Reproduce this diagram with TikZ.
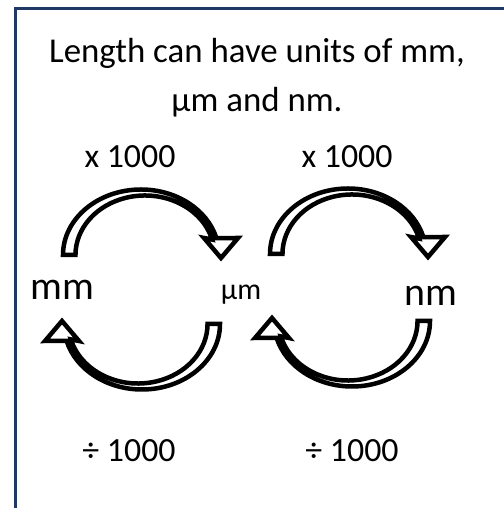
\documentclass[tikz,border=0pt]{standalone}
\usepackage{fontspec}
\setmainfont{Carlito}
\definecolor{frameblue}{RGB}{31,56,100}
\tikzset{
 bendarrow/.pic={
  \draw[bandline] (-78,0) arc[start angle=180,end angle=15,x radius=78,y radius=65.5]
   -- (97,17) -- (80,-3) -- (63,17) -- (71.1,15.4)
   arc[start angle=15,end angle=180,x radius=69.5,y radius=59.5] -- cycle;
 }
}
\begin{document}
\begin{tikzpicture}[x=1bp,y=1bp,
 heading/.style={font=\fontsize{35}{42}\selectfont,anchor=base,inner sep=0pt},
 factor/.style={font=\fontsize{34}{40}\selectfont,anchor=base,inner sep=0pt},
 unit/.style={font=\fontsize{40}{48}\selectfont,anchor=base,inner sep=0pt},
 bandline/.style={draw=black,fill=white,line width=4.5bp,line join=miter,miter limit=4}]
\useasboundingbox (0,0) rectangle (504,508);
\clip (0,0) rectangle (504,508);
\draw[frameblue,line width=3bp] (15,-10) |- (520,499);
% heading
\node[heading] (head1) at (257,445) {Length can have units of mm,};
\node[heading] (head2) at (257,396) {µm and nm.};
% factors
\node[factor] (up1) at (130,340) {x 1000};
\node[factor] (up2) at (347,340) {x 1000};
\node[factor] (down1) at (129,46) {÷ 1000};
\node[factor] (down2) at (352,46) {÷ 1000};
% units
\node[unit] (mm) at (62,208) {mm};
\node[unit,font=\fontsize{30}{36}\selectfont] (um) at (241,208) {µm};
\node[unit] (nm) at (431,202) {nm};
% curved arrows
\pic at (141,253) {bendarrow};
\pic[rotate=180] at (142,184) {bendarrow};
\pic at (348,254) {bendarrow};
\pic[rotate=180] at (352,187) {bendarrow};
\end{tikzpicture}
\end{document}
